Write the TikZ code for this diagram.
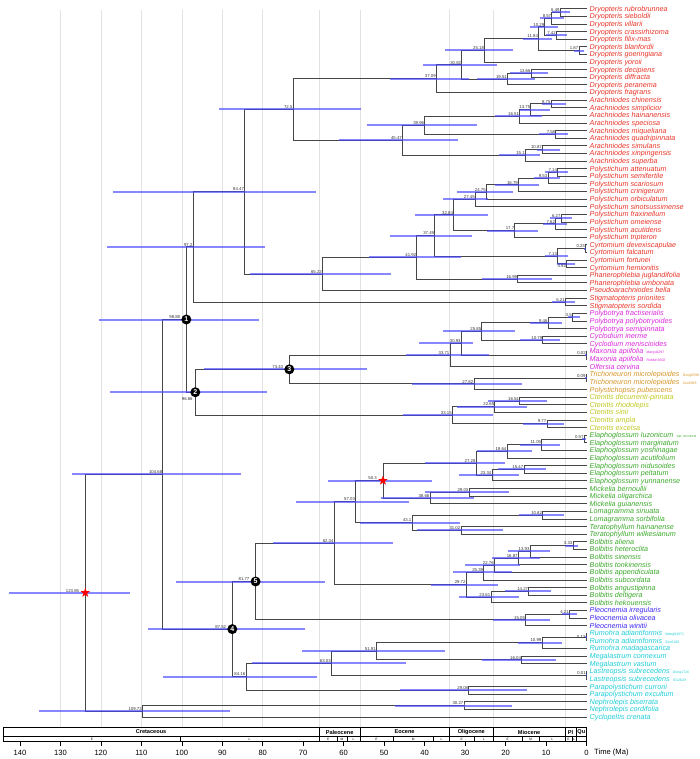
\documentclass[tikz,border=0pt]{standalone}
\usepackage{fontspec}
\setmainfont{Liberation Sans}
\usetikzlibrary{shapes.geometric}
\pgfdeclarelayer{bars}
\pgfdeclarelayer{marks}
\pgfsetlayers{main,bars,marks}

\definecolor{branch}{RGB}{70,70,70}
\definecolor{hpdblue}{RGB}{70,70,255}
\definecolor{gridgray}{RGB}{226,226,226}
\definecolor{dryred}{RGB}{232,52,40}
\definecolor{polymag}{RGB}{218,40,218}
\definecolor{trichor}{RGB}{214,150,40}
\definecolor{ctenyel}{RGB}{190,200,30}
\definecolor{elagrn}{RGB}{60,168,44}
\definecolor{pleoblu}{RGB}{64,40,240}
\definecolor{rumcyan}{RGB}{30,205,215}

\tikzset{
  br/.style={draw=branch, line width=0.8pt},
  hpd/.style={draw=hpdblue, line width=2pt, opacity=0.65},
  age/.style={font=\fontsize{4.3}{5}\selectfont, text=black!80, inner sep=0.5pt, anchor=south east},
  agebelow/.style={age, anchor=north east},
  ageleft/.style={age, anchor=east},
  tip/.style={font=\fontsize{7.2}{8}\selectfont\itshape, anchor=base west, inner sep=0pt, xshift=3pt, yshift=-2.5pt},
  numdot/.style={circle, fill=black, inner sep=0pt, minimum size=10pt, text=white, font=\fontsize{7}{7}\selectfont\bfseries},
  calib/.style={star, star points=5, star point ratio=2.5, fill=red, inner sep=0pt, minimum size=10pt},
  gridline/.style={draw=gridgray, line width=0.6pt},
  epoch/.style={font=\fontsize{5.6}{6}\selectfont\bfseries, inner sep=0pt},
  stage/.style={font=\fontsize{3.2}{3.5}\selectfont, inner sep=0pt},
  axlab/.style={font=\fontsize{7.6}{8}\selectfont, inner sep=0pt}
}

% age (Ma) -> x
\newcommand{\ma}[1]{586.5-4.047*#1}
\newcommand{\sfx}[1]{\,{\upshape\fontsize{3.5}{4}\selectfont #1}}
% [label style]{name}{age}{y}{hpd low}{hpd high}{child 1}{child 2}
\newcommand{\clade}[8][age]{%
  \coordinate (#2) at ({\ma{#3}},#4);
  \draw[br] (#7) -| (#2) |- (#8);
  \begin{pgfonlayer}{bars}
    \draw[hpd] ({\ma{#6}},#4) -- ({\ma{#5}},#4);
  \end{pgfonlayer}
  \begin{pgfonlayer}{marks}
    \node[#1] at (#2) {#3};
  \end{pgfonlayer}}

\begin{document}
\begin{tikzpicture}[x=1pt, y=-1pt]
\useasboundingbox (0,0) rectangle (700,759);

% grid
\foreach \g in {130,120,110,100,90,80,66,56,33.9,23.03,5.33}
  \draw[gridline] ({\ma{\g}},10) -- ({\ma{\g}},727.3);

% tips
\foreach \nm [count=\i] in {Dryopteris rubrobrunnea, Dryopteris sieboldii, Dryopteris villarii,
  Dryopteris crassirhizoma, Dryopteris filix-mas, Dryopteris blanfordii, Dryopteris goeringiana,
  Dryopteris yoroii, Dryopteris decipiens, Dryopteris diffracta, Dryopteris peranema,
  Dryopteris fragrans, Arachniodes chinensis, Arachniodes simplicior, Arachniodes hainanensis,
  Arachniodes speciosa, Arachniodes miqueliana, Arachniodes quadripinnata, Arachniodes simulans,
  Arachniodes xinpingensis, Arachniodes superba, Polystichum attenuatum, Polystichum semifertile,
  Polystichum scariosum, Polystichum crinigerum, Polystichum orbiculatum,
  Polystichum sinotsussimense, Polystichum fraxinellum, Polystichum omeiense,
  Polystichum acutidens, Polystichum tripteron, Cyrtomium devexiscapulae, Cyrtomium falcatum,
  Cyrtomium fortunei, Cyrtomium hemionitis, Phanerophlebia juglandifolia,
  Phanerophlebia umbonata, Pseudoarachniodes bella, Stigmatopteris prionites,
  Stigmatopteris sordida}
{
  \coordinate (t\i) at (586.5,{8.7+(\i-1)*7.616});
  \node[tip, text=dryred] (l\i) at (t\i) {\nm};
}
\foreach \nm [count=\i from 41] in {Polybotrya fractiserialis, Polybotrya polybotryoides,
  Polybotrya semipinnata, Cyclodium inerme, Cyclodium meniscioides,
  {Maxonia apiifolia \sfx{Margo0297}}, {Maxonia apiifolia \sfx{Robbin3602}}, Olfersia cervina}
{
  \coordinate (t\i) at (586.5,{8.7+(\i-1)*7.616});
  \node[tip, text=polymag] (l\i) at (t\i) {\nm};
}
\foreach \nm [count=\i from 49] in {{Trichoneuron microlepioides \sfx{Dong6598}},
  {Trichoneuron microlepioides \sfx{Zuo6093}}, Polystichopsis pubescens}
{
  \coordinate (t\i) at (586.5,{8.7+(\i-1)*7.616});
  \node[tip, text=trichor] (l\i) at (t\i) {\nm};
}
\foreach \nm [count=\i from 52] in {Ctenitis decurrenti-pinnata, Ctenitis rhodolepis,
  Ctenitis sinii, Ctenitis ampla, Ctenitis excelsa}
{
  \coordinate (t\i) at (586.5,{8.7+(\i-1)*7.616});
  \node[tip, text=ctenyel] (l\i) at (t\i) {\nm};
}
\foreach \nm [count=\i from 57] in {{Elaphoglossum luzonicum \sfx{var. mcclurei}},
  Elaphoglossum marginatum, Elaphoglossum yoshinagae, Elaphoglossum acutifolium,
  Elaphoglossum nidusoides, Elaphoglossum peltatum, Elaphoglossum yunnanense,
  Mickelia bernoullii, Mickelia oligarchica, Mickelia guianensis, Lomagramma sinuata,
  Lomagramma sorbifolia, Teratophyllum hainanense, Teratophyllum wilkesianum,
  Bolbitis aliena, Bolbitis heteroclita, Bolbitis sinensis, Bolbitis tonkinensis,
  Bolbitis appendiculata, Bolbitis subcordata, Bolbitis angustipinna, Bolbitis deltigera,
  Bolbitis hekouensis}
{
  \coordinate (t\i) at (586.5,{8.7+(\i-1)*7.616});
  \node[tip, text=elagrn] (l\i) at (t\i) {\nm};
}
\foreach \nm [count=\i from 80] in {Pleocnemia irregularis, Pleocnemia olivacea, Pleocnemia winitii}
{
  \coordinate (t\i) at (586.5,{8.7+(\i-1)*7.616});
  \node[tip, text=pleoblu] (l\i) at (t\i) {\nm};
}
\foreach \nm [count=\i from 83] in {{Rumohra adiantiformis \sfx{Wang91071}},
  {Rumohra adiantiformis \sfx{Zuo6109}}, Rumohra madagascarica, Megalastrum connexum,
  Megalastrum vastum, {Lastreopsis subrecedens \sfx{Dong1716}},
  {Lastreopsis subrecedens \sfx{SG2629}}, Parapolystichum currorii, Parapolystichum excultum,
  Nephrolepis biserrata, Nephrolepis cordifolia, Cyclopeltis crenata}
{
  \coordinate (t\i) at (586.5,{8.7+(\i-1)*7.616});
  \node[tip, text=rumcyan] (l\i) at (t\i) {\nm};
}

% Dryopteridoideae
\clade{d649}{6.49}{12.5}{4.1}{8.6}{t1}{t2}
\clade{d857}{8.57}{18.2}{5.5}{11.5}{d649}{t3}
\clade{d742}{7.42}{35.35}{4.9}{10.0}{t4}{t5}
\clade{d1029}{10.29}{26.8}{7.0}{14.0}{d857}{d742}
\clade{d187}{1.87}{50.6}{0.6}{3.2}{t6}{t7}
\clade{d1184}{11.84}{38.7}{8.6}{15.6}{d1029}{d187}
\clade{d2518}{25.18}{50.35}{18.2}{35.0}{d1184}{t8}
\clade{d1366}{13.66}{73.4}{9.4}{18.9}{t9}{t10}
\clade{d1951}{19.51}{79.15}{12.7}{27.0}{d1366}{t11}
\clade{d3082}{30.82}{64.75}{22.0}{40.4}{d2518}{d1951}
\clade{d3709}{37.09}{78.6}{29.0}{48.6}{d3082}{t12}
\clade{a875}{8.75}{103.9}{5.1}{11.1}{t13}{t14}
\clade{a1375}{13.75}{109.6}{9.0}{16.4}{a875}{t15}
\clade{a1651}{16.51}{116.25}{11.1}{22.6}{a1375}{t16}
\clade{a758}{7.58}{134.4}{4.5}{11.7}{t17}{t18}
\clade{a3996}{39.96}{125.3}{27.1}{54.3}{a1651}{a758}
\clade{a1087}{10.87}{149.6}{6.5}{12.3}{t19}{t20}
\clade{a151}{15.1}{155.3}{11.5}{21.5}{a1087}{t21}
\clade{a4547}{45.47}{140.3}{31.7}{61.1}{a3996}{a151}
\clade{n725}{72.5}{109.45}{55.8}{90.7}{d3709}{a4547}
\clade{p714}{7.14}{172.4}{4.5}{10.3}{t22}{t23}
\clade{p953}{9.53}{178.15}{6.5}{12.9}{p714}{t24}
\clade{p1679}{16.79}{184.8}{11.7}{22.6}{p953}{t25}
\clade{p2475}{24.75}{191.95}{18.2}{32.1}{p1679}{t26}
\clade{p2745}{27.45}{199.3}{24.3}{35.5}{p2475}{t27}
\clade{p627}{6.27}{218.1}{3.7}{9.0}{t28}{t29}
\clade{p762}{7.62}{223.8}{4.9}{10.7}{p627}{t30}
\clade{p177}{17.7}{230.5}{11.9}{24.7}{p762}{t31}
\clade{p3284}{32.84}{214.9}{24.3}{42.5}{p2745}{p177}
\clade{c023}{0.23}{248.6}{0.1}{0.6}{t32}{t33}
\clade[agebelow]{c492}{4.92}{263.8}{2.8}{7.4}{t34}{t35}
\clade{c713}{7.13}{256.2}{4.5}{10.3}{c023}{c492}
\clade{p3749}{37.49}{235.55}{28.2}{48.6}{p3284}{c713}
\clade{f1699}{16.99}{279.0}{8.5}{25.9}{t36}{t37}
\clade{n4192}{41.92}{257.3}{31.0}{53.7}{p3749}{f1699}
\clade{n6522}{65.22}{273.9}{48.4}{83.1}{n4192}{t38}
\clade{n8447}{84.47}{191.7}{66.8}{117.0}{n725}{n6522}
\clade{s521}{5.21}{301.9}{2.8}{8.6}{t39}{t40}
\clade{n972}{97.2}{246.8}{79.4}{118.6}{n8447}{s521}

% Polybotrya to Ctenitis
\clade{b35}{3.5}{317.1}{1.6}{4.5}{t41}{t42}
\clade{b946}{9.46}{322.8}{6.1}{14.0}{b35}{t43}
\clade{y1079}{10.79}{339.95}{6.5}{16.4}{t44}{t45}
\clade{b2585}{25.85}{331.4}{17.7}{35.4}{b946}{y1079}
\clade{x002}{0.02}{355.2}{0.0}{0.3}{t46}{t47}
\clade{b3093}{30.93}{343.3}{28.0}{41.3}{b2585}{x002}
\clade{b3371}{33.71}{354.95}{24.1}{44.6}{b3093}{t48}
\clade{r009}{0.09}{378.0}{0.0}{0.4}{t49}{t50}
\clade{r2782}{27.82}{383.75}{16.0}{43.2}{r009}{t51}
\clade[age,xshift=-5.5pt]{n3}{73.43}{369.35}{54.3}{94.4}{b3371}{r2782}
\clade{k1654}{16.54}{400.9}{9.8}{24.3}{t52}{t53}
\clade{k2265}{22.65}{406.6}{14.8}{32.1}{k1654}{t54}
\clade{k977}{9.77}{423.7}{5.6}{15.6}{t55}{t56}
\clade{k3315}{33.15}{415.15}{23.0}{45.3}{k2265}{k977}
\clade[agebelow,xshift=-2pt,yshift=-5pt]{n2}{96.66}{392.25}{79.0}{117.7}{n3}{k3315}
\clade[age,xshift=-5.5pt]{n1}{98.88}{319.5}{80.9}{120.5}{n972}{n2}

% Elaphoglossum to Cyclopeltis
\clade{e057}{0.57}{439.0}{0.2}{1.2}{t57}{t58}
\clade{e1105}{11.05}{444.7}{6.5}{16.4}{e057}{t59}
\clade{e1964}{19.64}{451.35}{13.5}{27.1}{e1105}{t60}
\clade{e1547}{15.47}{469.4}{10.0}{21.8}{t61}{t62}
\clade{e2334}{23.34}{475.15}{16.7}{31.4}{e1547}{t63}
\clade{e2728}{27.28}{463.25}{20.1}{40.0}{e1964}{e2334}
\clade{m2903}{29.03}{492.3}{19.1}{40.0}{t64}{t65}
\clade{m3866}{38.66}{498.0}{27.7}{50.9}{m2903}{t66}
\clade[age,xshift=-5.5pt]{n503}{50.3}{480.6}{38.1}{63.8}{e2728}{m3866}
\clade{g1082}{10.82}{515.1}{5.5}{16.7}{t67}{t68}
\clade{h3102}{31.02}{530.35}{20.6}{42.0}{t69}{t70}
\clade{n431}{43.1}{522.7}{31.3}{56.0}{g1082}{h3102}
\clade{n5703}{57.03}{501.65}{43.8}{71.8}{n503}{n431}
\clade{o333}{3.33}{545.6}{2.0}{5.3}{t71}{t72}
\clade{o1393}{13.93}{551.3}{9.0}{19.3}{o333}{t73}
\clade{o1687}{16.87}{557.95}{11.5}{23.4}{o1393}{t74}
\clade{o2276}{22.76}{565.1}{16.4}{30.0}{o1687}{t75}
\clade{o2539}{25.39}{572.45}{18.5}{32.9}{o2276}{t76}
\clade{o1427}{14.27}{591.3}{8.8}{20.1}{t77}{t78}
\clade{o2361}{23.61}{597.0}{16.6}{31.4}{o1427}{t79}
\clade{o2972}{29.72}{584.7}{21.8}{38.4}{o2539}{o2361}
\clade{n6234}{62.34}{543.2}{47.9}{77.5}{n5703}{o2972}
\clade{q421}{4.21}{614.1}{2.3}{6.1}{t80}{t81}
\clade{q1505}{15.05}{619.8}{9.0}{23.0}{q421}{t82}
\clade[age,xshift=-5.5pt]{n5}{81.77}{581.5}{64.6}{101.5}{n6234}{q1505}
\clade[ageleft]{u013}{0.13}{637.0}{0.0}{0.4}{t83}{t84}
\clade{u1099}{10.99}{642.7}{6.1}{16.9}{u013}{t85}
\clade{v1604}{16.04}{659.8}{7.5}{25.9}{t86}{t87}
\clade{n5191}{51.91}{651.25}{35.0}{70.2}{u1099}{v1604}
\clade{w001}{0.01}{675.05}{0.0}{0.1}{t88}{t89}
\clade{n6303}{63.03}{663.15}{44.6}{82.6}{n5191}{w001}
\clade{z2908}{29.08}{690.3}{14.8}{46.1}{t90}{t91}
\clade{n8416}{84.16}{676.7}{66.7}{104.6}{n6303}{z2908}
\clade[age,xshift=-5.5pt]{n4}{87.52}{629.1}{69.6}{108.4}{n5}{n8416}
\clade{n10468}{104.68}{474.3}{85.4}{127.1}{n1}{n4}
\clade{j3027}{30.27}{705.5}{18.5}{47.3}{t92}{t93}
\clade{n10973}{109.73}{711.25}{88.1}{135.2}{j3027}{t94}
\clade[age,xshift=-5.5pt]{root}{123.85}{592.8}{112.8}{142.7}{n10468}{n10973}

% numbered nodes and calibrations
\begin{pgfonlayer}{marks}
  \node[numdot] (k1) at (n1) {1};
  \node[numdot] (k2) at (n2) {2};
  \node[numdot] (k3) at (n3) {3};
  \node[numdot] (k4) at (n4) {4};
  \node[numdot] (k5) at (n5) {5};
  \node[calib] (cal1) at (root) {};
  \node[calib] (cal2) at (n503) {};
\end{pgfonlayer}

% time scale
\draw[line width=0.9pt] (3.3,727.3) rectangle (586.5,741.7);
\draw[line width=0.6pt] (3.3,736.7) -- (586.5,736.7);
\foreach \b in {66,56,33.9,23.03,5.33,2.58}
  \draw[line width=0.6pt] ({\ma{\b}},727.3) -- ({\ma{\b}},741.7);
\foreach \b in {100.5,61.6,59.2,47.8,37.8,27.82,15.97,11.63,3.6}
  \draw[line width=0.4pt] ({\ma{\b}},736.7) -- ({\ma{\b}},741.7);
\foreach \a/\t in {107.6/Cretaceous,61/Paleocene,44.95/Eocene,28.47/Oligocene,14.18/Miocene,3.96/Pl,1.29/Qu}
  \node[epoch] at ({\ma{\a}},732) {\t};
\foreach \a/\t in {122.2/E,83.25/L,63.8/E,60.4/M,57.6/L,51.9/E,42.8/M,35.85/L,30.86/E,25.4/L,19.5/E,13.8/M,8.48/L,4.47/E,3.09/L}
  \node[stage] at ({\ma{\a}},739.2) {\t};
\foreach \t in {0,10,...,140} {
  \draw[line width=0.5pt] ({\ma{\t}},741.7) -- ++(0,4.5);
  \node[axlab] at ({\ma{\t}},752.5) {\t};
}
\node[axlab, anchor=west] (tlab) at (594,752.5) {Time (Ma)};
\end{tikzpicture}
\end{document}
